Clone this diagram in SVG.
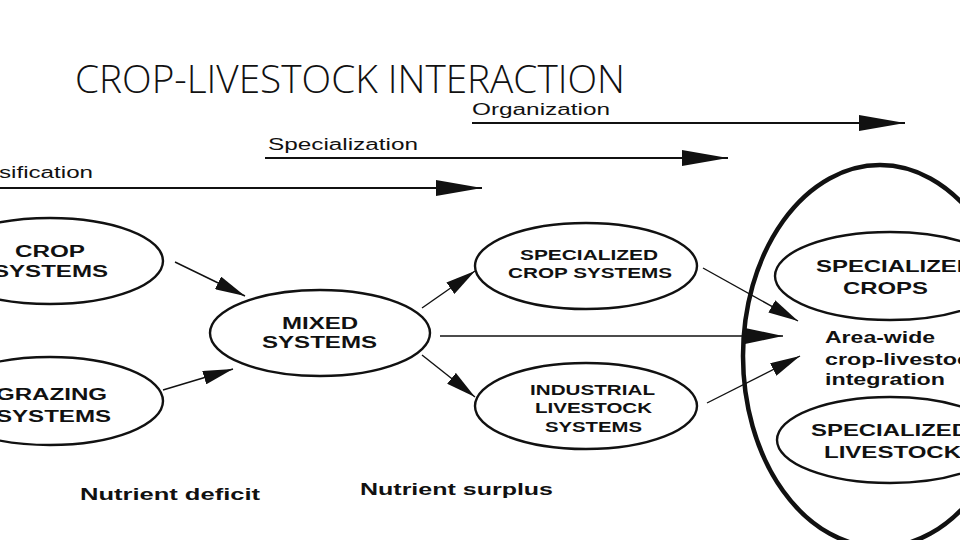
<svg xmlns="http://www.w3.org/2000/svg" width="960" height="540" viewBox="0 0 960 540">
  <defs>
    <style>
      .node { fill: none; stroke: #111; stroke-width: 2.4; }
      .lbl { font-family: "Liberation Sans", Arial, sans-serif; font-weight: bold; fill: #111; }
      .axis { font-family: "Liberation Sans", Arial, sans-serif; fill: #111; font-size: 16px; }
      .conn { stroke: #111; stroke-width: 1.4; fill: none; }
      .long { stroke: #111; stroke-width: 2; fill: none; }
    </style>
    <marker id="big" markerUnits="userSpaceOnUse" markerWidth="46" markerHeight="16" refX="46" refY="8" orient="auto">
      <path d="M0,0 L46,8 L0,16 Z" fill="#111"/>
    </marker>
    <marker id="mid" markerUnits="userSpaceOnUse" markerWidth="38" markerHeight="16" refX="38" refY="8" orient="auto">
      <path d="M0,0 L38,8 L0,16 Z" fill="#111"/>
    </marker>
    <marker id="small" markerUnits="userSpaceOnUse" markerWidth="30" markerHeight="14" refX="30" refY="7" orient="auto">
      <path d="M0,0 L30,7 L0,14 Z" fill="#111"/>
    </marker>
  </defs>
  <rect width="960" height="540" fill="#ffffff"/>

  <text id="title" x="75" y="93" font-family="'Open Sans', 'Liberation Sans', sans-serif" font-weight="300" font-size="39" fill="#111" textLength="550" lengthAdjust="spacingAndGlyphs">CROP-LIVESTOCK INTERACTION</text>

  <g id="connectors">
    <line class="long" x1="472" y1="123" x2="905" y2="123" marker-end="url(#big)"/>
    <line class="long" x1="265" y1="158" x2="728" y2="158" marker-end="url(#big)"/>
    <line class="long" x1="0" y1="188" x2="482" y2="188" marker-end="url(#big)"/>
    <line class="conn" x1="175" y1="262" x2="245" y2="296" marker-end="url(#small)"/>
    <line class="conn" x1="163" y1="390" x2="233" y2="369" marker-end="url(#small)"/>
    <line class="conn" x1="422" y1="308" x2="475" y2="271" marker-end="url(#small)"/>
    <line class="conn" x1="422" y1="355" x2="475" y2="397" marker-end="url(#small)"/>
    <line class="conn" x1="440" y1="336" x2="783" y2="336" marker-end="url(#mid)"/>
    <line class="conn" x1="703" y1="268" x2="798" y2="321" marker-end="url(#small)"/>
    <line class="conn" x1="707" y1="403" x2="800" y2="356" marker-end="url(#small)"/>
  </g>

  <g id="axis-labels">
    <text class="axis" x="472" y="115" textLength="138" lengthAdjust="spacingAndGlyphs">Organization</text>
    <text class="axis" x="268" y="150" textLength="150" lengthAdjust="spacingAndGlyphs">Specialization</text>
    <text class="axis" x="-1" y="178" textLength="94" lengthAdjust="spacingAndGlyphs">sification</text>
  </g>

  <g id="crop-systems">
    <ellipse class="node" cx="50" cy="261" rx="113" ry="43"/>
    <text class="lbl" font-size="16" x="15" y="257" textLength="70" lengthAdjust="spacingAndGlyphs">CROP</text>
    <text class="lbl" font-size="16" x="-7" y="277" textLength="115" lengthAdjust="spacingAndGlyphs">SYSTEMS</text>
  </g>

  <g id="grazing-systems">
    <ellipse class="node" cx="50" cy="401" rx="113" ry="44"/>
    <text class="lbl" font-size="16" x="-4" y="400" textLength="111" lengthAdjust="spacingAndGlyphs">GRAZING</text>
    <text class="lbl" font-size="16" x="-4" y="422" textLength="115" lengthAdjust="spacingAndGlyphs">SYSTEMS</text>
  </g>

  <g id="mixed-systems">
    <ellipse class="node" cx="320" cy="333" rx="110" ry="43"/>
    <text class="lbl" font-size="16" x="282" y="329" textLength="76" lengthAdjust="spacingAndGlyphs">MIXED</text>
    <text class="lbl" font-size="16" x="262" y="348" textLength="115" lengthAdjust="spacingAndGlyphs">SYSTEMS</text>
  </g>

  <g id="specialized-crop-systems">
    <ellipse class="node" cx="586" cy="266" rx="111" ry="43"/>
    <text class="lbl" font-size="14" x="520" y="260" textLength="138" lengthAdjust="spacingAndGlyphs">SPECIALIZED</text>
    <text class="lbl" font-size="14" x="508" y="278" textLength="164" lengthAdjust="spacingAndGlyphs">CROP SYSTEMS</text>
  </g>

  <g id="industrial-livestock-systems">
    <ellipse class="node" cx="586" cy="406" rx="111" ry="43"/>
    <text class="lbl" font-size="14" x="530" y="395" textLength="125" lengthAdjust="spacingAndGlyphs">INDUSTRIAL</text>
    <text class="lbl" font-size="14" x="535" y="413" textLength="117" lengthAdjust="spacingAndGlyphs">LIVESTOCK</text>
    <text class="lbl" font-size="14" x="545" y="432" textLength="97" lengthAdjust="spacingAndGlyphs">SYSTEMS</text>
  </g>

  <g id="area-wide">
    <ellipse cx="880" cy="356" rx="137" ry="191" fill="none" stroke="#111" stroke-width="4.5"/>
    <text class="lbl" font-size="17" x="825" y="343" textLength="110" lengthAdjust="spacingAndGlyphs">Area-wide</text>
    <text class="lbl" font-size="17" x="825" y="365" textLength="158" lengthAdjust="spacingAndGlyphs">crop-livestock</text>
    <text class="lbl" font-size="17" x="825" y="385" textLength="120" lengthAdjust="spacingAndGlyphs">integration</text>
  </g>

  <g id="specialized-crops">
    <ellipse class="node" cx="890" cy="276" rx="115" ry="44"/>
    <text class="lbl" font-size="17" x="816" y="272" textLength="158" lengthAdjust="spacingAndGlyphs">SPECIALIZED</text>
    <text class="lbl" font-size="17" x="843" y="294" textLength="85" lengthAdjust="spacingAndGlyphs">CROPS</text>
  </g>

  <g id="specialized-livestock">
    <ellipse class="node" cx="890" cy="440" rx="113" ry="43"/>
    <text class="lbl" font-size="17" x="811" y="436" textLength="158" lengthAdjust="spacingAndGlyphs">SPECIALIZED</text>
    <text class="lbl" font-size="17" x="824" y="458" textLength="137" lengthAdjust="spacingAndGlyphs">LIVESTOCK</text>
  </g>

  <g id="bottom-labels">
    <text class="lbl" font-size="16" x="80" y="500" textLength="180" lengthAdjust="spacingAndGlyphs">Nutrient deficit</text>
    <text class="lbl" font-size="16" x="360" y="495" textLength="193" lengthAdjust="spacingAndGlyphs">Nutrient surplus</text>
  </g>
</svg>
